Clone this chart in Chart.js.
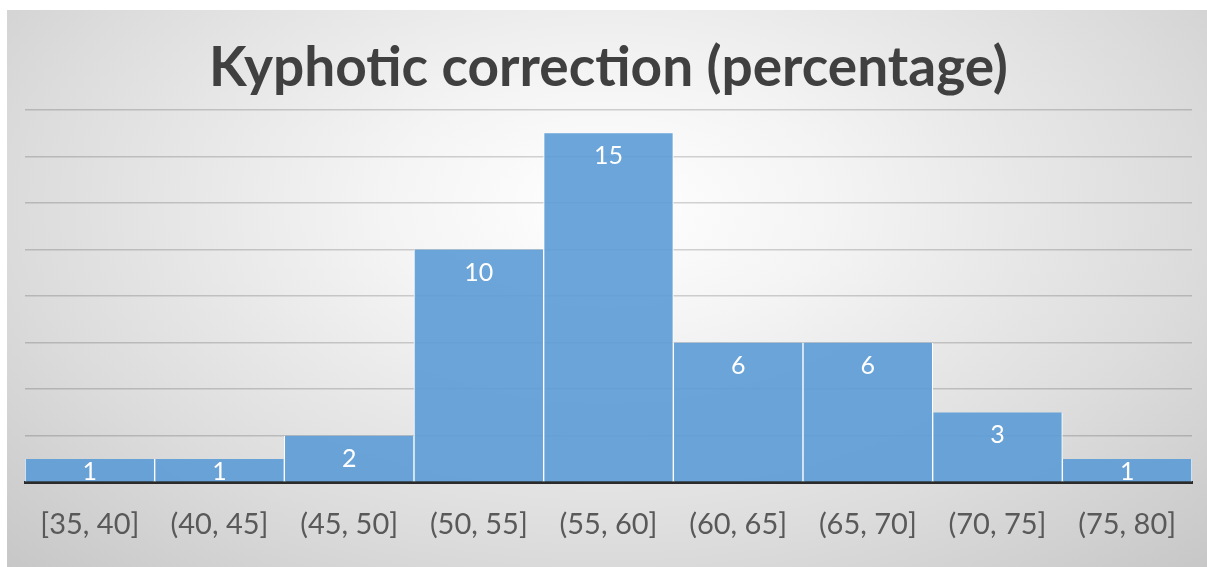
<!DOCTYPE html>
<html>
<head>
<meta charset="utf-8">
<script src="https://cdn.jsdelivr.net/npm/chart.js@4/dist/chart.umd.min.js"></script>
<style>
  html, body { margin: 0; padding: 0; background: #ffffff; }
  #wrap {
    position: absolute; left: 7px; top: 10px; width: 1200px; height: 557px;
    background: radial-gradient(ellipse 75% 95% at 50% 35%, #ffffff 0%, #f4f4f4 25%, #dcdcdc 65%, #c4c4c4 100%);
  }
</style>
</head>
<body>
<div id="wrap"><canvas id="graphique" width="1200" height="557"></canvas></div>
<script>
// ---- data ----
const bins = ["[35, 40]", "(40, 45]", "(45, 50]", "(50, 55]", "(55, 60]", "(60, 65]", "(65, 70]", "(70, 75]", "(75, 80]"];
const counts = [1, 1, 2, 10, 15, 6, 6, 3, 1];
const titleText = "Kyphotic correction (percentage)";

// white count labels inside the top of each bar
const barLabels = {
  id: "barLabels",
  afterDatasetsDraw(chart) {
    const ctx = chart.ctx;
    const meta = chart.getDatasetMeta(0);
    ctx.save();
    ctx.fillStyle = "#ffffff";
    ctx.font = "25px Lato";
    ctx.textAlign = "center";
    ctx.textBaseline = "middle";
    meta.data.forEach((bar, i) => {
      const y = Math.min(bar.y + 23, bar.base - 10);
      ctx.fillText(String(counts[i]), bar.x, y);
    });
    ctx.restore();
  }
};

function createChart() {
  const ctx = document.getElementById("graphique");
  new Chart(ctx, {
    type: "bar",
    data: {
      labels: bins,
      datasets: [{
        data: counts,
        backgroundColor: "rgba(91, 155, 213, 0.9)",
        borderColor: "#ffffff",
        borderWidth: { left: 1, right: 1, top: 0, bottom: 0 },
        borderSkipped: false,
        barPercentage: 1,
        categoryPercentage: 1
      }]
    },
    options: {
      responsive: false,
      animation: false,
      layout: { padding: { left: 18, right: 15, top: 0, bottom: 0 } },
      plugins: {
        legend: { display: false },
        tooltip: { enabled: false },
        title: {
          display: true,
          text: titleText,
          color: "#404040",
          font: { family: "Lato", size: 55, weight: "bold" },
          padding: { top: 25, bottom: 9 }
        }
      },
      scales: {
        x: {
          grid: { display: false, drawTicks: false },
          border: { display: true, color: "#2b2b2b", width: 3 },
          ticks: { color: "#595959", font: { family: "Lato", size: 29 }, padding: 25, maxRotation: 0 }
        },
        y: {
          min: 0,
          max: 16,
          ticks: { display: false, stepSize: 2 },
          grid: { color: "rgba(0, 0, 0, 0.17)", lineWidth: 1.5, drawTicks: false },
          border: { display: false },
          afterFit(scale) { scale.width = 0; }
        }
      }
    },
    plugins: [barLabels]
  });
}

document.addEventListener("DOMContentLoaded", createChart);
</script>
</body>
</html>
